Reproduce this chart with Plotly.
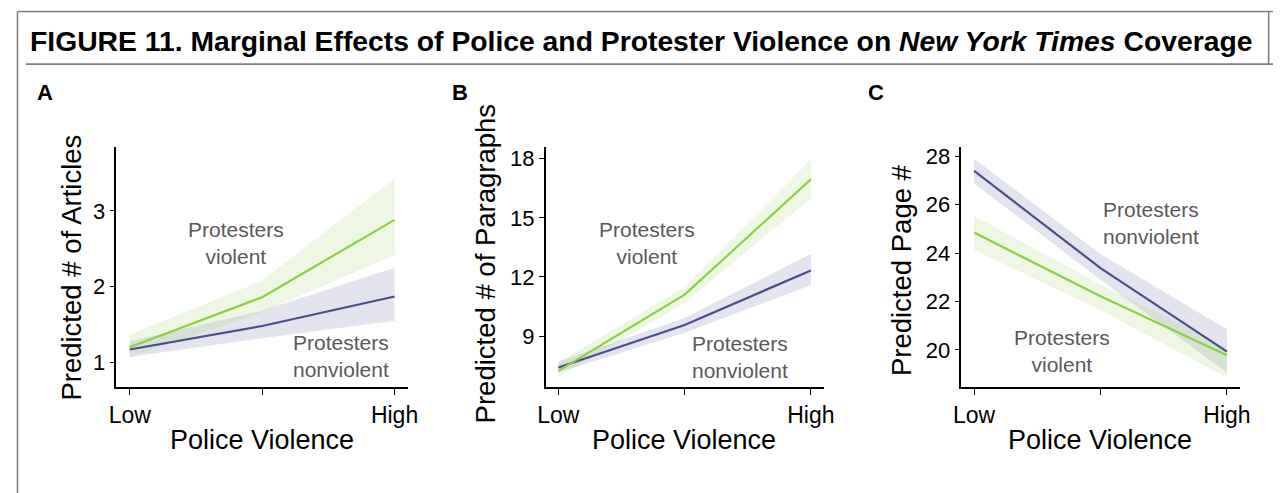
import plotly.graph_objects as go

W, H = 1281, 493
OFF = 8  # the page body adds an 8px margin; shift everything to compensate

# ---- data ----
levels = [0, 1, 2]
level_labels = ["Low", "", "High"]

# Panel A: Predicted # of Articles
a_viol = [1.20, 1.86, 2.88]
a_viol_lo = [1.07, 1.66, 2.42]
a_viol_hi = [1.36, 2.08, 3.43]
a_nonv = [1.17, 1.48, 1.87]
a_nonv_lo = [1.07, 1.32, 1.55]
a_nonv_hi = [1.28, 1.68, 2.25]

# Panel B: Predicted # of Paragraphs
b_viol = [7.23, 11.10, 16.96]
b_viol_lo = [6.93, 10.68, 16.00]
b_viol_hi = [7.65, 11.50, 17.97]
b_nonv = [7.40, 9.56, 12.33]
b_nonv_lo = [7.15, 9.17, 11.58]
b_nonv_hi = [7.70, 9.92, 13.16]

# Panel C: Predicted Page #
c_viol = [24.85, 22.22, 19.78]
c_viol_lo = [24.14, 21.64, 18.86]
c_viol_hi = [25.54, 22.70, 20.10]
c_nonv = [27.40, 23.38, 19.93]
c_nonv_lo = [26.88, 22.90, 19.07]
c_nonv_hi = [27.90, 23.96, 20.85]

a_ticks = [1, 2, 3]
b_ticks = [9, 12, 15, 18]
c_ticks = [20, 22, 24, 26, 28]

GREEN = "#8ad13f"
BLUE = "#4b4e8e"
GREEN_BAND = "rgba(150,210,90,0.17)"
BLUE_BAND = "rgba(90,90,150,0.16)"
FONT = "Liberation Sans, Arial, Helvetica, sans-serif"


def px(x):
    return (x - OFF) / W


def py(y):
    return 1 - (y - OFF) / H


fig = go.Figure()

panels = [
    ("x", "y", a_viol, a_viol_lo, a_viol_hi, a_nonv, a_nonv_lo, a_nonv_hi),
    ("x2", "y2", b_viol, b_viol_lo, b_viol_hi, b_nonv, b_nonv_lo, b_nonv_hi),
    ("x3", "y3", c_viol, c_viol_lo, c_viol_hi, c_nonv, c_nonv_lo, c_nonv_hi),
]

for xa, ya, v, vlo, vhi, n, nlo, nhi in panels:
    for lo, hi, band in [(nlo, nhi, BLUE_BAND), (vlo, vhi, GREEN_BAND)]:
        fig.add_trace(go.Scatter(x=levels + levels[::-1], y=hi + lo[::-1], fill="toself",
                                 fillcolor=band, line=dict(width=0), mode="lines",
                                 xaxis=xa, yaxis=ya, hoverinfo="skip", showlegend=False))
    for mid, col in [(n, BLUE), (v, GREEN)]:
        fig.add_trace(go.Scatter(x=levels, y=mid, mode="lines", line=dict(color=col, width=2.2),
                                 xaxis=xa, yaxis=ya, showlegend=False))

# axis geometry (pixels in the page)
ytop, ybot = 145, 386.7
xdoms = [(110, 405.7), (545.7, 827.7), (967.7, 1250)]
yranges = [[0.67, 3.84], [6.39, 18.59], [18.45, 28.38]]
yticks = [a_ticks, b_ticks, c_ticks]

common_x = dict(tickvals=levels, ticktext=level_labels, range=[-0.1, 2.1], showline=True,
                linecolor="black", linewidth=1.6, ticks="outside", ticklen=6, tickwidth=1.4,
                tickcolor="black", showgrid=False, zeroline=False,
                tickfont=dict(family=FONT, size=23, color="black"))
common_y = dict(showline=True, linecolor="black", linewidth=1.6, ticks="outside", ticklen=5,
                tickwidth=1.4, tickcolor="black", showgrid=False, zeroline=False,
                tickfont=dict(family=FONT, size=22, color="black"))

layout_axes = {}
for i, (xd, yr, yt) in enumerate(zip(xdoms, yranges, yticks)):
    sfx = "" if i == 0 else str(i + 1)
    layout_axes["xaxis" + sfx] = dict(common_x, domain=[px(xd[0]), px(xd[1])],
                                      anchor="y" + sfx)
    layout_axes["yaxis" + sfx] = dict(common_y, domain=[py(ybot), py(ytop)], range=yr,
                                      tickvals=yt, anchor="x" + sfx)

fig.update_layout(width=W, height=H, margin=dict(l=0, r=0, t=0, b=0),
                  paper_bgcolor="white", plot_bgcolor="white", showlegend=False,
                  font=dict(family=FONT), **layout_axes)


def note(x, y, text, size, color="black", angle=0, xanchor="center"):
    return dict(x=px(x), y=py(y), xref="paper", yref="paper", text=text, textangle=angle,
                xanchor=xanchor, yanchor="middle", align="center", showarrow=False,
                font=dict(family=FONT, size=size, color=color))


ann = []
ann.append(note(20, 38, "<b>FIGURE 11. Marginal Effects of Police and Protester Violence on "
                        "<i>New York Times</i> Coverage</b>", 28.3, xanchor="left"))
for lx, letter in [(37, "A"), (459, "B"), (881, "C")]:
    ann.append(note(lx, 90, "<b>" + letter + "</b>", 22))
for lx, lyc, t in [(64, 266, "Predicted # of Articles"), (485, 262, "Predicted # of Paragraphs"),
                   (907, 269, "Predicted Page #")]:
    ann.append(note(lx, lyc, t, 27.5, angle=-90))
for lx in [257.7, 686, 1108.3]:
    ann.append(note(lx, 440, "Police Violence", 27))
for lx, ly, t in [(231, 241, "Protesters<br>violent"), (338, 355, "Protesters<br>nonviolent"),
                  (648, 241, "Protesters<br>violent"), (743, 356, "Protesters<br>nonviolent"),
                  (1160, 221, "Protesters<br>nonviolent"), (1070, 350, "Protesters<br>violent")]:
    ann.append(note(lx, ly, t, 21, color="#595959"))
fig.update_layout(annotations=ann)

# frame lines
line = dict(color="#808080", width=1.6)
fig.add_shape(type="line", xref="paper", yref="paper", x0=px(9.5), x1=px(1285), y0=py(8.5), y1=py(8.5), line=line)
fig.add_shape(type="line", xref="paper", yref="paper", x0=px(18), x1=px(1285), y0=py(61.5), y1=py(61.5), line=line)
fig.add_shape(type="line", xref="paper", yref="paper", x0=px(9.5), x1=px(9.5), y0=py(8.5), y1=py(500), line=line)
fig.add_shape(type="line", xref="paper", yref="paper", x0=px(1279.5), x1=px(1279.5), y0=py(8.5), y1=py(61.5), line=line)

fig.write_html("out.html", config={"displayModeBar": False})
